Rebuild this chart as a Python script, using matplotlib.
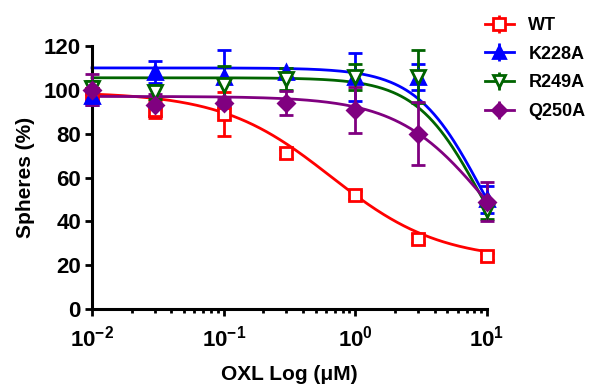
import numpy as np
import matplotlib
matplotlib.use("Agg")
import matplotlib.pyplot as plt
from matplotlib.ticker import LogLocator, NullFormatter

plt.rcParams["font.family"] = ["Liberation Sans", "DejaVu Sans"]
plt.rcParams["font.weight"] = "bold"
plt.rcParams["mathtext.fontset"] = "custom"
plt.rcParams["mathtext.rm"] = "Liberation Sans:bold"
plt.rcParams["mathtext.bf"] = "Liberation Sans:bold"
plt.rcParams["mathtext.default"] = "rm"

# doses (uM)
dose = [0.01, 0.03, 0.1, 0.3, 1, 3, 10]

labels = ["WT", "K228A", "R249A", "Q250A"]
wt_mean = [98, 91, 89, 71, 52, 32, 24]
wt_err = [3, 4, 10, 2, 2, 2, 1.5]
k228a_mean = [97, 108, 106, 108, 106, 106, 50]
k228a_err = [4, 5, 12, 2, 11, 6, 6]
r249a_mean = [101, 99, 102, 105, 106, 106, 45]
r249a_err = [3, 3, 9, 5, 6, 12, 4]
q250a_mean = [100, 93, 94, 94, 91, 80, 49]
q250a_err = [7, 5, 2, 5.5, 10.5, 14.5, 9]

# fitted dose-response curves: top, bottom, EC50, hill
wt_fit = [99, 22, 0.65, 1.05]
k228a_fit = [110, 0, 9.0, 1.75]
r249a_fit = [105.5, 0, 8.8, 1.78]
q250a_fit = [97, 0, 10.2, 1.27]

means = [wt_mean, k228a_mean, r249a_mean, q250a_mean]
errs = [wt_err, k228a_err, r249a_err, q250a_err]
fits = [wt_fit, k228a_fit, r249a_fit, q250a_fit]

colors = ["#ff0000", "#0000ff", "#006400", "#800080"]
markers = ["s", "^", "v", "D"]
filled = [False, True, False, True]
msizes = [9, 10, 10, 8]


def logistic(x, p):
    top, bottom, ec50, hill = p
    return bottom + (top - bottom) / (1 + (x / ec50) ** hill)


fig = plt.figure(figsize=(5.97, 3.85), dpi=100)
ax = fig.add_axes([92 / 597, 1 - 309 / 385, (487 - 92) / 597, (309 - 46) / 385])

xs = np.logspace(-2, 1, 300)
handles = []
for m, e, p, c, mk, f, ms, lab in zip(means, errs, fits, colors, markers,
                                       filled, msizes, labels):
    ax.plot(xs, logistic(xs, p), color=c, lw=2, zorder=2, clip_on=False)
    ax.errorbar(dose, m, yerr=e, fmt=mk, color=c, ms=ms,
                mfc=c if f else "white", mec=c, mew=2,
                ecolor=c, elinewidth=2, capsize=5, capthick=2,
                clip_on=False, zorder=3)
    handles.append(ax.errorbar([], [], yerr=[], fmt=mk + "-", color=c, ms=ms - 1,
                               mfc=c if f else "white", mec=c, mew=2, lw=2))

ax.set_xscale("log")
ax.set_xlim(0.01, 10)
ax.set_ylim(0, 120)
ax.set_yticks(range(0, 121, 20))
ax.set_xticks([0.01, 0.1, 1, 10])
ax.set_xticklabels([r"$10^{-2}$", r"$10^{-1}$", r"$10^{0}$", r"$10^{1}$"])
ax.xaxis.set_minor_locator(LogLocator(base=10, subs=np.arange(2, 10)))
ax.xaxis.set_minor_formatter(NullFormatter())

for s in ["top", "right"]:
    ax.spines[s].set_visible(False)
for s in ["left", "bottom"]:
    ax.spines[s].set_linewidth(2.2)
ax.tick_params(which="major", length=5, width=2, labelsize=16, pad=3)
ax.tick_params(axis="x", which="major", pad=7)
ax.tick_params(which="minor", length=3, width=2)
for t in ax.get_yticklabels():
    t.set_fontweight("bold")

ax.set_xlabel("OXL Log (\u03bcM)", fontsize=15, fontweight="bold", labelpad=10)
ax.set_ylabel("Spheres (%)", fontsize=15, fontweight="bold", labelpad=6)

leg = fig.legend(handles, labels, loc="upper left",
                 bbox_to_anchor=(485 / 597, 1 - 17 / 385), frameon=False,
                 fontsize=13, handlelength=1.6, handletextpad=0.8,
                 labelspacing=0.65, borderpad=0, borderaxespad=0)
for t in leg.get_texts():
    t.set_fontweight("bold")

fig.savefig("out.png", dpi=100)
